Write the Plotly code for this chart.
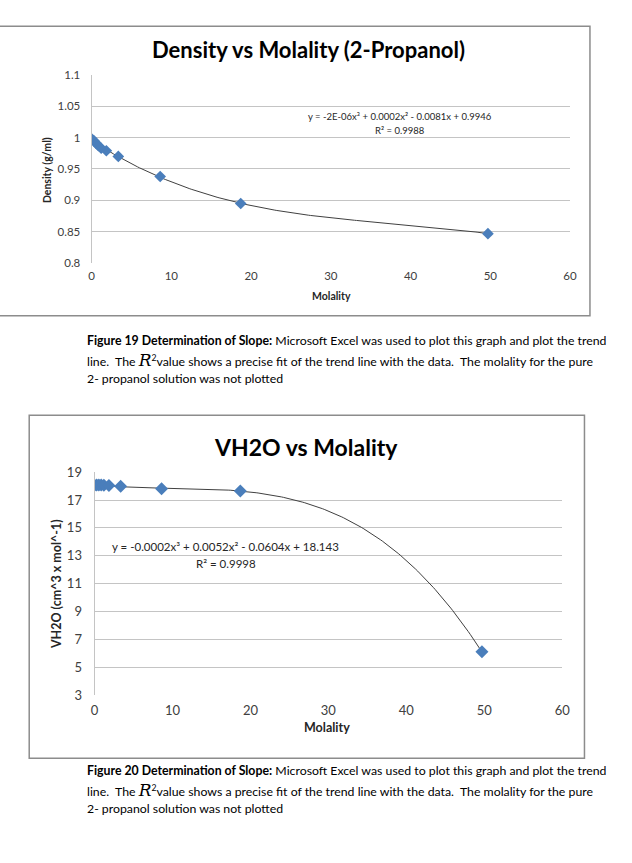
import numpy as np
import plotly.graph_objects as go

W, H = 632, 863

# ---- data ----
molality = [0, 0.27, 0.55, 0.85, 1.2, 1.85, 3.35, 8.6, 18.7, 49.7]
density = [0.998, 0.995, 0.991, 0.987, 0.983, 0.979, 0.970, 0.938, 0.895, 0.847]
vh2o = [18.07, 18.08, 18.08, 18.09, 18.07, 18.04, 17.99, 17.82, 17.66, 6.1]

x_ticks = [0, 10, 20, 30, 40, 50, 60]
dens_ticks = [0.8, 0.85, 0.9, 0.95, 1.0, 1.05, 1.1]
dens_ticktext = ["0.8", "0.85", "0.9", "0.95", "1", "1.05", "1.1"]
vh2o_ticks = [3, 5, 7, 9, 11, 13, 15, 17, 19]

title1 = "Density vs Molality (2-Propanol)"
title2 = "VH2O vs Molality"
eq1 = "y = -2E-06x³ + 0.0002x² - 0.0081x + 0.9946"
r1 = "R² = 0.9988"
eq2 = "y = -0.0002x³ + 0.0052x² - 0.0604x + 18.143"
r2 = "R² = 0.9998"

FONT = "Lato"
BLUE = "#4A7EBB"
GRID = "#C4C4C4"
TICKC = "#404040"

def px(x):
    return x / W

def py(y):
    return 1 - y / H

fig = go.Figure()

# trendlines (3rd-order polynomial fits, as Excel does)
xs = np.linspace(min(molality), max(molality), 200)
c1 = np.polyfit(molality, density, 3)
c2 = np.polyfit(molality, vh2o, 3)
fig.add_trace(go.Scatter(x=xs, y=np.polyval(c1, xs), mode="lines",
                         line=dict(color="#404040", width=1), xaxis="x", yaxis="y",
                         hoverinfo="skip"))
fig.add_trace(go.Scatter(x=molality, y=density, mode="markers",
                         marker=dict(symbol="diamond", size=9, color=BLUE,
                                     line=dict(width=0)), xaxis="x", yaxis="y"))
fig.add_trace(go.Scatter(x=xs, y=np.polyval(c2, xs), mode="lines",
                         line=dict(color="#404040", width=1), xaxis="x2", yaxis="y2",
                         hoverinfo="skip"))
fig.add_trace(go.Scatter(x=molality, y=vh2o, mode="markers",
                         marker=dict(symbol="diamond", size=10, color=BLUE,
                                     line=dict(width=0)), xaxis="x2", yaxis="y2"))

xbase = dict(range=[0, 60], tickvals=x_ticks, showgrid=False, zeroline=False,
             showline=False, ticks="")
ybase = dict(showgrid=True, gridcolor=GRID, gridwidth=1, zeroline=False,
             showline=True, linecolor=GRID, linewidth=1, ticks="")

fig.update_layout(
    width=W, height=H, margin=dict(l=0, r=0, t=0, b=0),
    paper_bgcolor="white", plot_bgcolor="white", showlegend=False,
    xaxis=dict(domain=[px(89.3), px(577)], anchor="y", **xbase,
               tickfont=dict(family=FONT, color=TICKC, size=11.5), ticklabelstandoff=4),
    yaxis=dict(domain=[py(260), py(68)], anchor="x", range=[0.8, 1.1],
               tickvals=dens_ticks, ticktext=dens_ticktext, **ybase,
               tickfont=dict(family=FONT, color=TICKC, size=11.5), ticklabelstandoff=8),
    xaxis2=dict(domain=[px(92.3), px(569)], anchor="y2", **xbase,
                tickfont=dict(family=FONT, color=TICKC, size=13), ticklabelstandoff=6),
    yaxis2=dict(domain=[py(700), py(473)], anchor="x2", range=[3, 19],
                tickvals=vh2o_ticks, **ybase,
                tickfont=dict(family=FONT, color=TICKC, size=13), ticklabelstandoff=9),
)

# chart frames
fig.add_shape(type="rect", xref="paper", yref="paper", x0=px(-5), x1=px(597.3),
              y0=py(313.5), y1=py(18.5), line=dict(color="#8C8C8C", width=1.5))
fig.add_shape(type="rect", xref="paper", yref="paper", x0=px(25.7), x1=px(591.7),
              y0=py(764.5), y1=py(415), line=dict(color="#8C8C8C", width=1.5))

def ann(text, x, y, size, bold=False, xanchor="center", color="black", angle=0, family=FONT):
    fig.add_annotation(text=f"<b>{text}</b>" if bold else text, xref="paper", yref="paper",
                       x=px(x), y=py(y), xanchor=xanchor, yanchor="middle", showarrow=False,
                       textangle=angle, font=dict(family=family, size=size, color=color))

# titles
ann(title1, 310, 42, 22, bold=True)
ann(title2, 308, 447, 23, bold=True)
# axis titles
ann("Molality", 334, 293, 10.5, bold=True, color="#262626")
ann("Molality", 329, 733, 12.5, bold=True, color="#262626")
ann("Density (g/ml)", 44, 165, 10.5, bold=True, color="#262626", angle=-90)
ann("VH2O (cm^3 x mol^-1)", 53, 587, 12.5, bold=True, color="#262626", angle=-90)
# trendline labels
ann(eq1, 404, 111, 9.5, color="#262626")
ann(r1, 404, 125, 9.5, color="#262626")
ann(eq2, 226, 549, 11.5, color="#262626")
ann(r2, 226, 566, 11.5, color="#262626")

# captions
RSQ = ("<span style=\"font-family:'DejaVu Serif';font-size:17px\"><i>R</i></span>"
       "<sup>2</sup>")
NB = "\u00a0"

def caption(num, y0):
    lines = [
        f"<b>Figure {num} Determination of Slope:</b> Microsoft Excel was used to plot this graph and plot the trend",
        f"line.{NB} The {RSQ}value shows a precise fit of the trend line with the data.{NB} The molality for the pure",
        "2- propanol solution was not plotted",
    ]
    for i, t in enumerate(lines):
        ann(t, 83, y0 + i * 19.3, 12.3, xanchor="left", color="black")

caption(19, 339)
caption(20, 777)

fig.write_html("out.html", config={"displayModeBar": False},
               post_script="document.body.style.margin='0';document.body.style.overflow='hidden';")
